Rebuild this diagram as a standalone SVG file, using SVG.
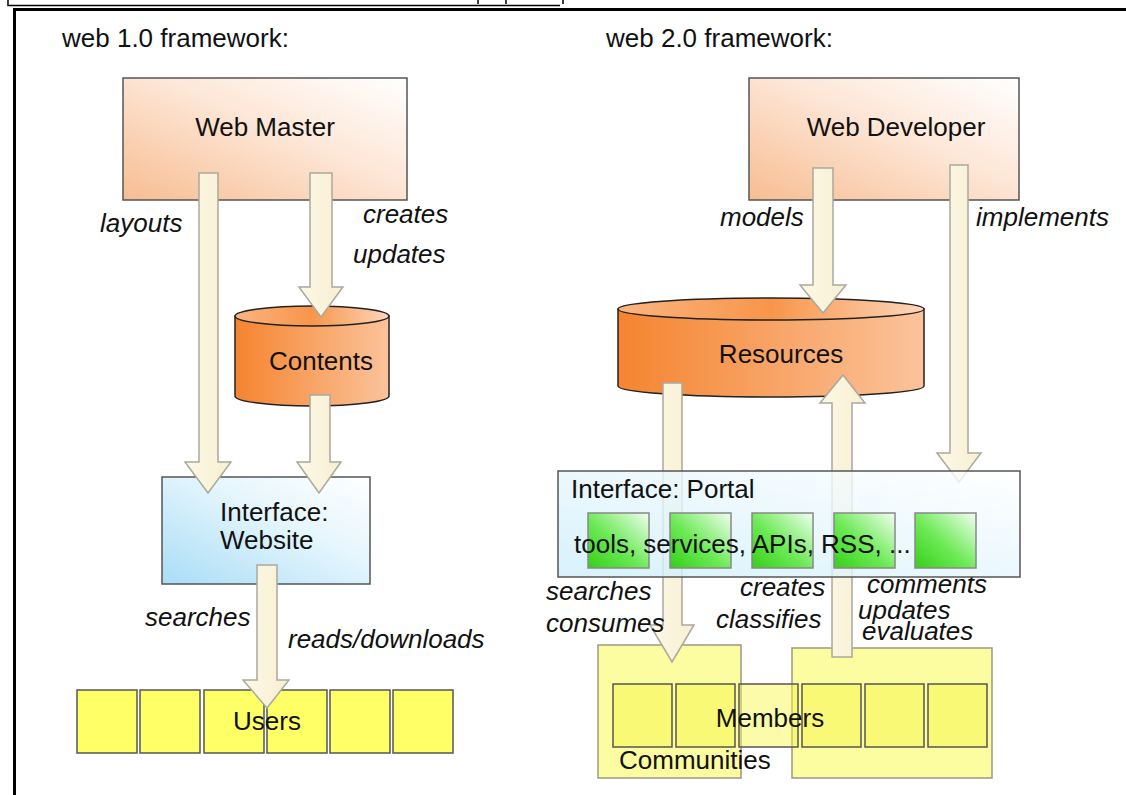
<svg xmlns="http://www.w3.org/2000/svg" width="1126" height="795" viewBox="0 0 1126 795">
<defs>
<linearGradient id="gPeach" x1="0" y1="1" x2="1" y2="0"><stop offset="0" stop-color="#f7bd92"/><stop offset="0.55" stop-color="#fde6d6"/><stop offset="1" stop-color="#ffffff"/></linearGradient>
<linearGradient id="gCylBody" x1="0" y1="0" x2="1" y2="0"><stop offset="0" stop-color="#f5842f"/><stop offset="1" stop-color="#fbc39b"/></linearGradient>
<linearGradient id="gCylTop" x1="0" y1="0" x2="1" y2="0"><stop offset="0" stop-color="#fbb480"/><stop offset="0.5" stop-color="#f8954a"/><stop offset="1" stop-color="#fdd6ba"/></linearGradient>
<linearGradient id="gBlue" x1="0" y1="1" x2="1" y2="0"><stop offset="0" stop-color="#a9ddf6"/><stop offset="0.6" stop-color="#e6f6fd"/><stop offset="1" stop-color="#ffffff"/></linearGradient>
<linearGradient id="gPortal" x1="0" y1="1" x2="1" y2="0"><stop offset="0" stop-color="#cdeefb"/><stop offset="1" stop-color="#ffffff"/></linearGradient>
<linearGradient id="gGreen" x1="0" y1="1" x2="1" y2="0"><stop offset="0" stop-color="#22cc00"/><stop offset="0.45" stop-color="#5fe844"/><stop offset="1" stop-color="#f2fff0"/></linearGradient>
<linearGradient id="gArrow" x1="0" y1="0" x2="1" y2="0"><stop offset="0" stop-color="#fdf8e6"/><stop offset="1" stop-color="#f8efd2"/></linearGradient>
</defs>
<style>
text{font-family:"Liberation Sans",Arial,sans-serif;font-size:26px;fill:#111}
.it{font-style:italic}
.box{stroke:#555;stroke-width:1.5}
.cyl{stroke:#222;stroke-width:1.5}
.arrow{fill:url(#gArrow);stroke:#a9a99f;stroke-width:1.5}
.ubox{fill:#ffff66;stroke:#555;stroke-width:1.5}
.mbox{fill:#f7f740;fill-opacity:0.45;stroke:#555;stroke-width:1.5}
.cont{fill:#fbfb8f;fill-opacity:0.85;stroke:#9a9a80;stroke-width:1.5}
.gbox{fill:url(#gGreen);fill-opacity:0.9;stroke:#888;stroke-width:1.5}
.frame{stroke:#000;fill:none}
</style>
<rect width="1126" height="795" fill="#fff"/>
<g id="frame">
<path class="frame" d="M8 0 V5.5 H560" stroke-width="1.5"/>
<path class="frame" d="M478 0 V4 M506 0 V4 M563 0 V4" stroke-width="1.5"/>
<path class="frame" d="M14.5 795 V9.5 H1126" stroke-width="3"/>
</g>
<g id="titles">
<text x="62" y="47">web 1.0 framework:</text>
<text x="606" y="47">web 2.0 framework:</text>
</g>
<g id="web-master"><rect class="box" x="123" y="78" width="284" height="122" fill="url(#gPeach)"/><text x="265" y="136" text-anchor="middle">Web Master</text></g>
<g id="web-developer"><rect class="box" x="749" y="78" width="270" height="122" fill="url(#gPeach)"/><text x="896" y="136" text-anchor="middle">Web Developer</text></g>
<g id="contents"><path class="cyl" d="M235 316 V396 A77 10 0 0 0 389 396 V316 Z" fill="url(#gCylBody)"/><ellipse class="cyl" cx="312" cy="316" rx="77" ry="10" fill="url(#gCylTop)"/><text x="321" y="370" text-anchor="middle">Contents</text></g>
<g id="resources"><path class="cyl" d="M618 309 V386 A153 11 0 0 0 924 386 V309 Z" fill="url(#gCylBody)"/><ellipse class="cyl" cx="771" cy="309" rx="153" ry="11" fill="url(#gCylTop)"/><text x="781" y="363" text-anchor="middle">Resources</text></g>
<g id="interface-website"><rect class="box" x="162" y="477" width="208" height="107" fill="url(#gBlue)"/><text x="220" y="521">Interface:</text><text x="220" y="549">Website</text></g>
<g id="users">
<rect class="ubox" x="77" y="690" width="60" height="63"/><rect class="ubox" x="140" y="690" width="60" height="63"/><rect class="ubox" x="204" y="690" width="60" height="63"/><rect class="ubox" x="267" y="690" width="60" height="63"/><rect class="ubox" x="330" y="690" width="60" height="63"/><rect class="ubox" x="393" y="690" width="60" height="63"/>
</g>
<g id="communities"><rect class="cont" x="598" y="645" width="143" height="133"/></g>
<g id="community-2"><rect class="cont" x="792" y="648" width="200" height="130"/></g>
<g id="members">
<rect class="mbox" x="613" y="684" width="59" height="63"/><rect class="mbox" x="676" y="684" width="59" height="63"/><rect class="mbox" x="739" y="684" width="59" height="63"/><rect class="mbox" x="802" y="684" width="59" height="63"/><rect class="mbox" x="865" y="684" width="59" height="63"/><rect class="mbox" x="928" y="684" width="59" height="63"/>
<text x="770" y="727" text-anchor="middle">Members</text>
<text x="619" y="769">Communities</text>
</g>
<g id="connectors">
<path class="arrow" d="M199 173 H218 V462 H231 L208 493 L185 462 H199 Z"/>
<path class="arrow" d="M310 173 H332 V287 H343 L321 317 L299 287 H310 Z"/>
<path class="arrow" d="M310 395 H330 V462 H341 L319 493 L297 462 H310 Z"/>
<path class="arrow" d="M257 565 H277 V680 H289 L267 708 L243 680 H257 Z"/>
<path class="arrow" d="M813 168 H833 V285 H846 L823 313 L800 285 H813 Z"/>
<path class="arrow" d="M950 165 H968 V453 H981 L959 482 L937 453 H950 Z"/>
<path class="arrow" d="M663 383 H682 V625 H694 L672 662 L650 625 H663 Z"/>
<path class="arrow" d="M832 657 H852 V403 H865 L843 375 L820 403 H832 Z"/>
<g class="labels">
<text class="it" x="100" y="232">layouts</text>
<text class="it" x="363" y="223">creates</text>
<text class="it" x="353" y="263">updates</text>
<text class="it" x="145" y="626">searches</text>
<text class="it" x="288" y="648">reads/downloads</text>
<text class="it" x="720" y="226">models</text>
<text class="it" x="976" y="226">implements</text>
<text class="it" x="546" y="600">searches</text>
<text class="it" x="546" y="632">consumes</text>
<text class="it" x="740" y="596">creates</text>
<text class="it" x="716" y="628">classifies</text>
<text class="it" x="867" y="593">comments</text>
<text class="it" x="858" y="619">updates</text>
<text class="it" x="862" y="640">evaluates</text>
</g>
</g>
<text x="267" y="730" text-anchor="middle">Users</text>
<g id="interface-portal">
<rect class="box" x="558" y="471" width="462" height="106" fill="url(#gPortal)" fill-opacity="0.8"/>
<text x="571" y="498">Interface: Portal</text>
<rect class="gbox" x="588" y="513" width="61" height="55"/><rect class="gbox" x="670" y="513" width="61" height="55"/><rect class="gbox" x="752" y="513" width="61" height="55"/><rect class="gbox" x="834" y="513" width="61" height="55"/><rect class="gbox" x="915" y="513" width="61" height="55"/>
<text x="574" y="553">tools, services, APIs, RSS, ...</text>
</g>
</svg>
